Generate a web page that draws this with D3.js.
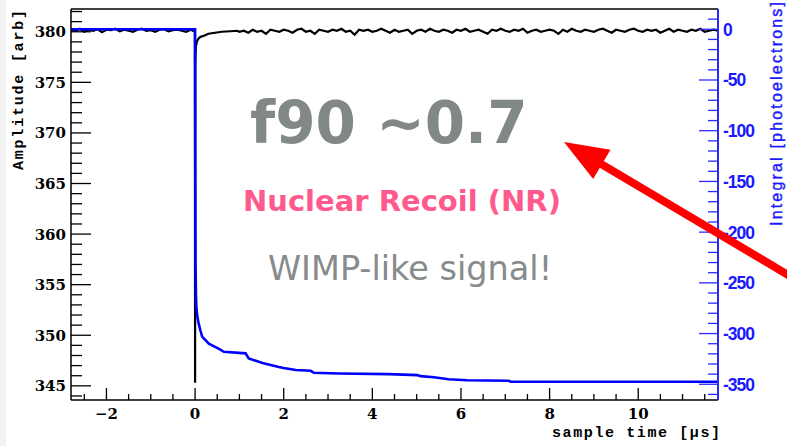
<!DOCTYPE html>
<html>
<head>
<meta charset="utf-8">
<script src="https://cdn.jsdelivr.net/npm/d3@7"></script>
<style>
  body { margin: 0; background: #fff; }
  svg { display: block; }
</style>
</head>
<body>
<script>
// waveform (black, left axis) - sampled every 0.1 us before and after the pulse
var preStart = -2.8, postStart = 1.0, sampleStep = 0.1;
var preAmp = [380.2,380.1,380.3,380.0,380.2,380.1,380.25,379.95,380.2,380.15,380.3,380.05,380.2,380.1,
              380.0,380.2,380.3,380.1,380.15,380.0,380.2,380.25,380.05,380.15,380.2,380.1,380.0,380.2];
var pulseT   = [-0.05, -0.005, 0, 0.004, 0.01, 0.02, 0.04, 0.07, 0.12, 0.2, 0.3, 0.45, 0.6, 0.8, 0.95];
var pulseAmp = [380.1, 380.2, 345.3, 376.5, 377.8, 378.6, 379.0, 379.3, 379.5, 379.6, 379.8, 379.9, 380.0, 380.05, 380.1];
var postAmp = [380.0,380.1,379.9,380.2,380.0,380.1,379.8,380.2,380.1,380.0,
               380.2,380.1,379.9,380.2,380.3,380.0,380.1,379.8,380.2,380.1,
               380.0,380.2,380.1,380.3,380.0,380.1,379.7,380.2,380.1,380.2,
               380.0,380.1,380.3,380.1,379.9,380.2,380.0,380.1,380.2,379.8,
               380.1,380.2,380.0,380.3,380.1,380.0,380.2,380.1,379.9,380.2,
               380.1,380.3,380.0,380.1,380.2,380.0,379.8,380.2,380.1,380.3,
               380.1,380.0,380.2,380.1,380.3,379.9,380.1,380.2,380.0,380.1,
               380.2,380.1,379.8,380.2,380.0,380.3,380.1,380.0,380.2,380.1,
               380.0,380.2,380.3,380.1,379.9,380.2,380.1,380.0,380.2,380.3,
               380.1,380.0,380.2,380.1,380.2,379.9,380.1,380.3,380.0,380.2,
               380.1,380.0,380.2,380.1,380.3,380.0,380.1,380.2,380.1];

// integral (blue, right axis)
var intT = [-2.8, 0, 0.005, 0.01, 0.02, 0.03, 0.05, 0.08, 0.12, 0.16, 0.31, 0.54, 0.65, 1.14, 1.21,
            1.52, 1.89, 2.0, 2.27, 2.61, 2.68, 3.24, 4.37, 5.02, 5.09, 5.39, 5.72, 6.14, 7.08, 7.12, 11.8];
var intV = [0, 0, -150, -230, -262, -275, -283, -290, -297, -303, -310, -315, -318, -319.5, -324.5,
            -329, -333, -334, -336, -336.7, -338.7, -339.3, -340, -341, -342, -343, -345, -346, -346.5, -347.5, -347.5];

var xTicks = [-2, 0, 2, 4, 6, 8, 10];
var leftTicks = [345, 350, 355, 360, 365, 370, 375, 380];
var rightTicks = [0, -50, -100, -150, -200, -250, -300, -350];

var width = 787, height = 446;
var L = 71, R = 718, T = 9, B = 400;

var svg = d3.select("body").append("svg")
    .attr("width", width)
    .attr("height", height);

svg.append("rect").attr("x", 0).attr("y", 0).attr("width", 6).attr("height", height).attr("fill", "#f3f3f3");

var x = d3.scaleLinear().domain([-2.8, 11.8]).range([L, R]);
var yL = d3.scaleLinear().domain([343.6, 382.25]).range([B, T]);
var yR = d3.scaleLinear().domain([-365.5, 20]).range([B, T]);

// build waveform points
var wave = [];
preAmp.forEach(function(v, i) { wave.push([preStart + i * sampleStep, v]); });
pulseT.forEach(function(t, i) { wave.push([t, pulseAmp[i]]); });
postAmp.forEach(function(v, i) { wave.push([postStart + i * sampleStep, v]); });

var integ = intT.map(function(t, i) { return [t, intV[i]]; });

svg.append("clipPath").attr("id", "clip")
    .append("rect").attr("x", L).attr("y", T).attr("width", R - L).attr("height", B - T);

var plot = svg.append("g").attr("clip-path", "url(#clip)");

plot.append("path")
    .datum(wave)
    .attr("fill", "none")
    .attr("stroke", "#000")
    .attr("stroke-width", 2.2)
    .attr("d", d3.line().x(function(d) { return x(d[0]); }).y(function(d) { return yL(d[1]); }));

plot.append("path")
    .datum(integ)
    .attr("fill", "none")
    .attr("stroke", "#0000ff")
    .attr("stroke-width", 2.6)
    .attr("d", d3.line().x(function(d) { return x(d[0]); }).y(function(d) { return yR(d[1]); }));

// frame
svg.append("line").attr("x1", L).attr("x2", R).attr("y1", T).attr("y2", T).attr("stroke", "#000").attr("stroke-width", 1.5);

// left axis (ticks inside)
var gl = svg.append("g").attr("transform", "translate(" + L + ",0)");
gl.append("line").attr("x1", 0).attr("x2", 0).attr("y1", T).attr("y2", B).attr("stroke", "#000").attr("stroke-width", 1.5);
d3.range(344, 383).forEach(function(v) {
    var major = v % 5 == 0;
    gl.append("line").attr("x1", 0).attr("x2", major ? 20 : 11)
        .attr("y1", yL(v)).attr("y2", yL(v)).attr("stroke", "#000").attr("stroke-width", 1.3);
});
gl.selectAll("text.tl").data(leftTicks).enter().append("text")
    .attr("x", -5).attr("y", function(d) { return yL(d) + 5.5; })
    .attr("text-anchor", "end")
    .attr("font-family", "DejaVu Serif")
    .attr("font-weight", "bold")
    .attr("font-size", 15)
    .text(function(d) { return d; });

// bottom axis
var gb = svg.append("g").attr("transform", "translate(0," + B + ")");
gb.append("line").attr("x1", L).attr("x2", R).attr("y1", 0).attr("y2", 0).attr("stroke", "#000").attr("stroke-width", 1.5);
d3.range(-5, 24).forEach(function(k) {
    var v = k / 2;
    var major = k % 4 == 0;
    gb.append("line").attr("x1", x(v)).attr("x2", x(v)).attr("y1", 0).attr("y2", major ? -12 : -6)
        .attr("stroke", "#000").attr("stroke-width", 1.3);
});
gb.selectAll("text.tb").data(xTicks).enter().append("text")
    .attr("x", function(d) { return x(d); }).attr("y", 19)
    .attr("text-anchor", "middle")
    .attr("font-family", "DejaVu Serif")
    .attr("font-weight", "bold")
    .attr("font-size", 15)
    .text(function(d) { return d < 0 ? "\u2212" + (-d) : d; });

// right axis (blue)
var gr = svg.append("g").attr("transform", "translate(" + R + ",0)");
gr.append("line").attr("x1", 0).attr("x2", 0).attr("y1", T).attr("y2", B).attr("stroke", "#2a2aff").attr("stroke-width", 2);
d3.range(-36, 2).forEach(function(k) {
    var v = k * 10;
    var major = v % 50 == 0;
    gr.append("line").attr("x1", 0).attr("x2", major ? -19 : -10)
        .attr("y1", yR(v)).attr("y2", yR(v)).attr("stroke", "#2a2aff").attr("stroke-width", 1.3);
});
gr.selectAll("text.tr").data(rightTicks).enter().append("text")
    .attr("x", 5).attr("y", function(d) { return yR(d) + 6.5; })
    .attr("text-anchor", "start")
    .attr("font-family", "Liberation Sans")
    .attr("font-weight", "bold")
    .attr("font-size", 17.5)
    .attr("letter-spacing", -1)
    .attr("fill", "#1a1aff")
    .text(function(d) { return d; });

// axis titles
svg.append("text")
    .attr("transform", "translate(23,90) rotate(-90)")
    .attr("text-anchor", "middle")
    .attr("font-family", "Liberation Mono")
    .attr("font-weight", "bold")
    .attr("font-size", 15)
    .attr("textLength", 160)
    .text("Amplitude [arb]");

svg.append("text")
    .attr("x", 720).attr("y", 437)
    .attr("text-anchor", "end")
    .attr("font-family", "Liberation Mono")
    .attr("font-weight", "bold")
    .attr("font-size", 15)
    .attr("textLength", 168)
    .text("sample time [\u00b5s]");

svg.append("text")
    .attr("transform", "translate(782,114) rotate(-90)")
    .attr("text-anchor", "middle")
    .attr("font-family", "Liberation Sans")
    .attr("font-size", 16)
    .attr("fill", "#1a1aff")
    .attr("stroke", "#1a1aff")
    .attr("stroke-width", 0.4)
    .attr("textLength", 224)
    .text("Integral [photoelectrons]");

// annotations
svg.append("text")
    .attr("x", 250).attr("y", 143)
    .attr("font-family", "DejaVu Sans")
    .attr("font-weight", "bold")
    .attr("font-size", 58)
    .attr("fill", "#828787")
    .text("f90 ~0.7");

svg.append("text")
    .attr("x", 243).attr("y", 211)
    .attr("font-family", "DejaVu Sans")
    .attr("font-weight", "bold")
    .attr("font-size", 29)
    .attr("fill", "#ff5a8c")
    .text("Nuclear Recoil (NR)");

svg.append("text")
    .attr("x", 268).attr("y", 280)
    .attr("font-family", "DejaVu Sans")
    .attr("font-size", 33.5)
    .attr("fill", "#878b8b")
    .text("WIMP-like signal!");

// red arrow
var tip = [564, 142], tail = [800, 282];
var ang = Math.atan2(tail[1] - tip[1], tail[0] - tip[0]);
var headLen = 44, headW = 17;
var bx = tip[0] + headLen * Math.cos(ang), by = tip[1] + headLen * Math.sin(ang);
svg.append("line")
    .attr("x1", bx - 4 * Math.cos(ang)).attr("y1", by - 4 * Math.sin(ang))
    .attr("x2", tail[0]).attr("y2", tail[1])
    .attr("stroke", "#ff0000").attr("stroke-width", 8);
svg.append("polygon")
    .attr("points", [
        tip,
        [bx - headW * Math.sin(ang), by + headW * Math.cos(ang)],
        [bx + headW * Math.sin(ang), by - headW * Math.cos(ang)]
    ].map(function(p) { return p.join(","); }).join(" "))
    .attr("fill", "#ff0000");
</script>
</body>
</html>
